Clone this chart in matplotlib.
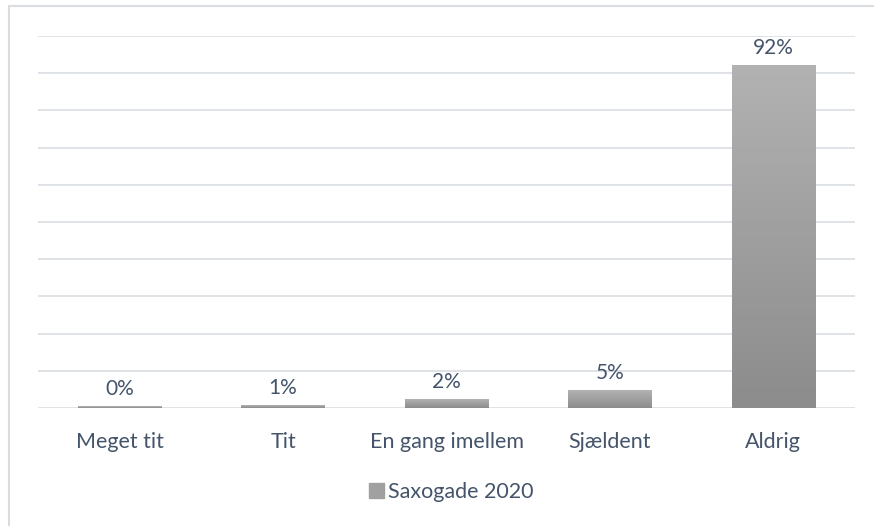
import numpy as np
import matplotlib
matplotlib.use("Agg")
import matplotlib.pyplot as plt
from matplotlib.patches import Rectangle
from matplotlib.colors import LinearSegmentedColormap

categories = ["Meget tit", "Tit", "En gang imellem", "Sjældent", "Aldrig"]
values = [0.4, 0.6, 2.2, 4.7, 92]
series_name = "Saxogade 2020"

text_col = "#44546A"
grid_col = "#DCE0E5"
plt.rcParams['font.family'] = ['Lato', 'DejaVu Sans']

fig = plt.figure(figsize=(8.74, 5.26), dpi=100)
# light outer frame
fig.patches.append(Rectangle((8.5 / 874, -0.1), 1.2, 1.1 - 6.5 / 526,
                             transform=fig.transFigure, fill=False,
                             edgecolor="#D9DDE2", linewidth=1.5))

ax = fig.add_axes([38 / 874, 118 / 526, 817 / 874, 372 / 526])
ax.set_yticks(np.arange(0, 101, 10))
ax.yaxis.grid(True, color=grid_col, linewidth=1.3)
ax.set_axisbelow(True)
ax.tick_params(left=False, bottom=False, labelleft=False)
for s in ax.spines.values():
    s.set_visible(False)

grad = LinearSegmentedColormap.from_list("g", ["#8C8C8C", "#B2B2B2"])
w = 0.51
for i, v in enumerate(values):
    ax.imshow(np.linspace(0, 1, 100).reshape(-1, 1), cmap=grad, origin="lower",
              extent=(i - w / 2, i + w / 2, 0, v), aspect="auto", zorder=2)
    ax.annotate(f"{v:.0f}%", (i, v), xytext=(0, 12.5), textcoords="offset points",
                ha="center", va="center", fontsize=15, color=text_col)
ax.set_aspect("auto")
ax.set_xlim(-0.5, len(categories) - 0.5)
ax.set_ylim(0, 100)

ax.set_xticks(range(len(categories)))
ax.set_xticklabels(categories, fontsize=15.5, color=text_col)
ax.tick_params(axis="x", pad=14)

leg = fig.legend(handles=[Rectangle((0, 0), 1, 1, color="#A0A0A0")],
                 labels=[series_name], loc="center", bbox_to_anchor=(451 / 874, 1 - 492 / 526),
                 frameon=False, fontsize=15.5, handlelength=0.7, handleheight=0.7,
                 handletextpad=0.2)
for t in leg.get_texts():
    t.set_color(text_col)

fig.savefig("out.png", dpi=100)
